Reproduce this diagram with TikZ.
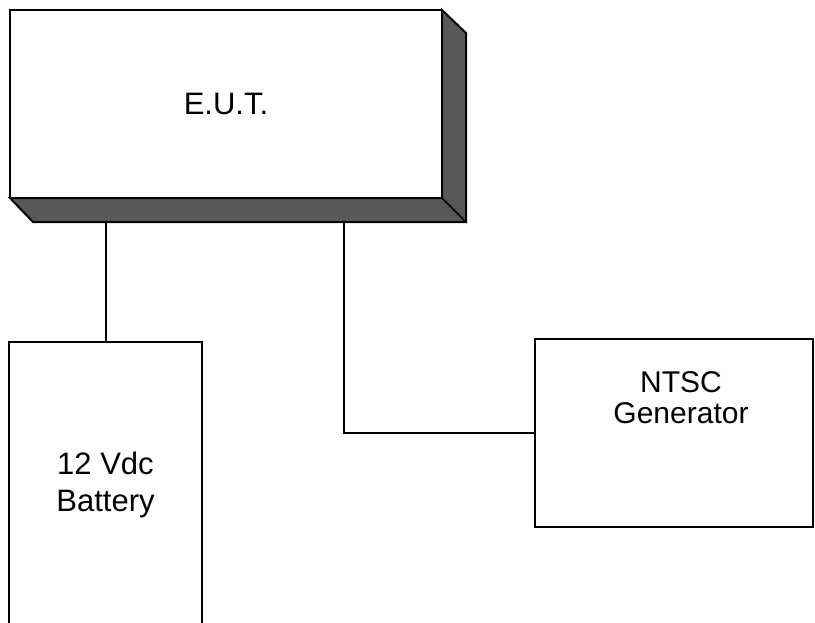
\documentclass[tikz,border=0pt]{standalone}
\usepackage{fontspec}
\setmainfont{Liberation Sans}
\usepackage{tikz}
\usetikzlibrary{positioning}

\begin{document}
\begin{tikzpicture}[x=0.5pt,y=-0.5pt,
    unit/.style={draw,line width=1pt,inner sep=0pt,outer sep=0pt,align=center},
    wire/.style={line width=1pt}]
\useasboundingbox (0,0) rectangle (815,622);
\clip (0,0) rectangle (815,622);
\fontsize{15.5}{18.5}\selectfont
% shaded sides of the E.U.T. box
\draw[line width=1pt,fill=black!65] (442,10) -- (466,33) -- (466,222) -- (33,222) -- (10,198) -- (442,198) -- cycle;
\draw[line width=0.8pt] (442,198) -- (466,222);
\node[unit,minimum width=216pt,minimum height=94pt,fill=white] (eut) at (226,104) {E.U.T.};
\coordinate (eutfoot) at (226,222);
\coordinate (tap) at (344,222);
% battery runs off the bottom edge
\node[unit,minimum width=96.5pt,minimum height=143pt] (battery) at (105.5,485) {};
\node[align=center,font=\fontsize{15.5}{18.5}\selectfont] (batterytext) at (battery.center) {12 Vdc\\Battery};
\node[unit,minimum width=139pt,minimum height=94pt] (ntsc) at (674,433) {};
\node[align=center,font=\fontsize{15}{15.5}\selectfont] (ntsctext) at (681,398) {NTSC\\Generator};
\draw[wire] (battery.north |- eutfoot) -- (battery.north);
\draw[wire] (tap) -- (tap |- ntsc.west) -- (ntsc.west);
\end{tikzpicture}
\end{document}
